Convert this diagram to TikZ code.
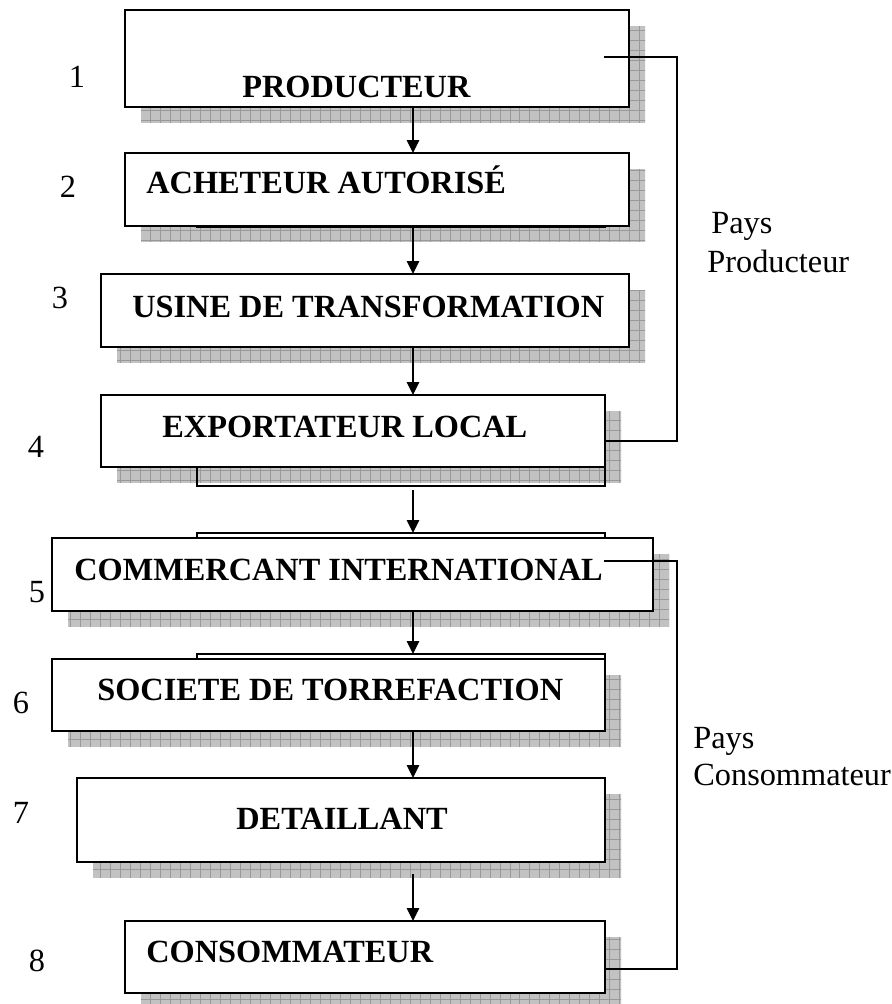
\documentclass[tikz,border=0pt]{standalone}
\usepackage{fontspec}
\setmainfont{Liberation Serif}
\usetikzlibrary{arrows.meta}
\newcommand{\shadowrect}[4]{%
  \begin{scope}
    \clip (#1+16,#2+16) rectangle (#3+16,#4+15);
    \fill[black!24] (#1,#2) rectangle (#3+30,#4+30);
    \draw[black!40, line width=0.45pt] (#1,#2) grid[step=0.2cm] (#3+30,#4+30);
  \end{scope}}
\tikzset{
  bx/.style={draw=black, line width=1.1pt, inner sep=0pt, outer sep=0pt, fill=white},
  ghost/.style={draw=black, line width=1.1pt, inner sep=0pt, outer sep=0pt},
  lbl/.style={font=\fontsize{18.4}{22}\selectfont\bfseries, inner sep=0pt, anchor=base west},
  num/.style={font=\fontsize{18.4}{22}\selectfont, inner sep=0pt, anchor=base},
  side/.style={font=\fontsize{18.4}{22}\selectfont, inner sep=0pt, anchor=base west},
  arr/.style={line width=0.8pt, -{Triangle[length=0.26cm,width=0.25cm]}},
  conn/.style={line width=0.8pt}
}
\begin{document}
\begin{tikzpicture}[x=0.02cm, y=-0.02cm]
\useasboundingbox (0,0) rectangle (892,1004);
\clip (0,0) rectangle (892,1004);
% shadows
\shadowrect{125}{10}{629}{107}
\shadowrect{125}{153}{629}{226}
\shadowrect{101}{274}{629}{347}
\shadowrect{101}{395}{605}{467}
\shadowrect{52}{538}{653}{611}
\shadowrect{52}{659}{605}{731}
\shadowrect{77}{778}{605}{862}
\shadowrect{125}{921}{605}{993}
% ghost outlines
\node[ghost, minimum width={(605-197)*0.02cm}, minimum height={(227-170)*0.02cm}] (e2) at ({(197+605)/2},{(170+227)/2}) {};
\node[ghost, minimum width={(605-197)*0.02cm}, minimum height={(486-420)*0.02cm}] (e4) at ({(197+605)/2},{(420+486)/2}) {};
\node[ghost, minimum width={(605-197)*0.02cm}, minimum height={(590-533)*0.02cm}] (e5) at ({(197+605)/2},{(533+590)/2}) {};
\node[ghost, minimum width={(605-197)*0.02cm}, minimum height={(710-654)*0.02cm}] (e6) at ({(197+605)/2},{(654+710)/2}) {};
% boxes
\node[bx, minimum width={(629-125)*0.02cm}, minimum height={(107-10)*0.02cm}] (b1) at ({(125+629)/2},{(10+107)/2}) {};
\node[bx, minimum width={(629-125)*0.02cm}, minimum height={(226-153)*0.02cm}] (b2) at ({(125+629)/2},{(153+226)/2}) {};
\node[bx, minimum width={(629-101)*0.02cm}, minimum height={(347-274)*0.02cm}] (b3) at ({(101+629)/2},{(274+347)/2}) {};
\node[bx, minimum width={(605-101)*0.02cm}, minimum height={(467-395)*0.02cm}] (b4) at ({(101+605)/2},{(395+467)/2}) {};
\node[bx, minimum width={(653-52)*0.02cm}, minimum height={(611-538)*0.02cm}] (b5) at ({(52+653)/2},{(538+611)/2}) {};
\node[bx, minimum width={(605-52)*0.02cm}, minimum height={(731-659)*0.02cm}] (b6) at ({(52+605)/2},{(659+731)/2}) {};
\node[bx, minimum width={(605-77)*0.02cm}, minimum height={(862-778)*0.02cm}] (b7) at ({(77+605)/2},{(778+862)/2}) {};
\node[bx, minimum width={(605-125)*0.02cm}, minimum height={(993-921)*0.02cm}] (b8) at ({(125+605)/2},{(921+993)/2}) {};
% texts
\node[lbl] (t1) at (242,97) {PRODUCTEUR};
\node[lbl] (t2) at (146,193) {ACHETEUR AUTORISÉ};
\node[lbl] (t3) at (132,317) {USINE DE TRANSFORMATION};
\node[lbl] (t4) at (162,437) {EXPORTATEUR LOCAL};
\node[lbl] (t5) at (74,580) {COMMERCANT INTERNATIONAL};
\node[lbl] (t6) at (97,700) {SOCIETE DE TORREFACTION};
\node[lbl] (t7) at (236,829) {DETAILLANT};
\node[lbl] (t8) at (146,962) {CONSOMMATEUR};
% numbers
\node[num] (n1) at (77,87) {1};
\node[num] (n2) at (68,197) {2};
\node[num] (n3) at (60,308) {3};
\node[num] (n4) at (36,457) {4};
\node[num] (n5) at (37,602) {5};
\node[num] (n6) at (21,713) {6};
\node[num] (n7) at (21,823) {7};
\node[num] (n8) at (37,971) {8};
% side labels
\node[side] (pp1) at (711,233) {Pays};
\node[side] (pp2) at (707,272) {Producteur};
\node[side] (pc1) at (693,748) {Pays};
\node[side] (pc2) at (693,785) {Consommateur};
% arrows
\coordinate (ax) at (413,0);
\draw[arr] (b1.south -| ax) -- (b2.north -| ax);
\draw[arr] (b2.south -| ax) -- (b3.north -| ax);
\draw[arr] (b3.south -| ax) -- (b4.north -| ax);
\draw[arr, shorten <=0.08cm] (e4.south -| ax) -- (e5.north -| ax);
\draw[arr] (b5.south -| ax) -- (e6.north -| ax);
\draw[arr] (b6.south -| ax) -- (b7.north -| ax);
\draw[arr, shorten <=0.24cm] (b7.south -| ax) -- (b8.north -| ax);
% side connectors
\coordinate (rail) at (677,0);
\coordinate (c1s) at (604,57);
\coordinate (c5s) at (604,561);
\draw[conn] (c1s) -- (c1s -| rail) |- ([yshift=-0.2cm]b4.east);
\draw[conn] (c5s) -- (c5s -| rail) |- ([yshift=-0.24cm]b8.east);
\end{tikzpicture}
\end{document}
